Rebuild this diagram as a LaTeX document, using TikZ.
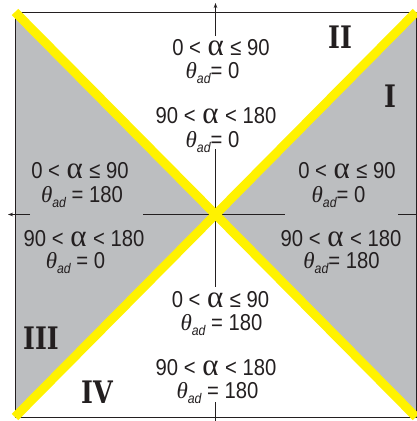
\documentclass[tikz,border=0pt]{standalone}
\usepackage{fontspec}
\usetikzlibrary{arrows.meta}
\newfontfamily\lab[FakeStretch=0.88]{Liberation Sans}
\newfontfamily\thf{Liberation Serif}
\newfontfamily\romf[FakeStretch=0.82]{DejaVu Serif}
\definecolor{gr}{HTML}{BCBEC0}
\definecolor{yl}{HTML}{FFF200}
\definecolor{ink}{HTML}{231F20}
\newcommand\al{\hspace{1pt}{\thf\fontsize{31}{31}\selectfont α}\hspace{1pt}}
\newcommand\thad{{\thf\itshape θ}\raisebox{-5pt}{\fontsize{14}{14}\selectfont\itshape ad}}
\begin{document}
\begin{tikzpicture}[x=1pt,y=-1pt,
  lbl/.style={anchor=base,inner sep=0pt,text=ink,font=\lab\fontsize{23}{23}\selectfont},
  rom/.style={inner sep=0pt,text=ink,font=\romf\fontsize{31}{31}\selectfont\bfseries},
  axisline/.style={draw=ink,line width=1pt},
  tip/.style={-{Stealth[length=5pt,width=3.5pt]}},
  yline/.style={draw=yl,line width=9pt}]
\useasboundingbox (0,0) rectangle (417,421);
\coordinate (TL) at (15,12);
\coordinate (TR) at (416,12);
\coordinate (BL) at (15,417);
\coordinate (BR) at (416,417);
\coordinate (C) at (215.5,214.5);
% fills
\fill[gr] (TL) -- (C) -- (BL) -- cycle;
\fill[gr] (TR) -- (C) -- (BR) -- cycle;
\draw[ink,line width=1pt] (TL) rectangle (BR);
% axes
\coordinate (hL1) at (30,214.5);   \coordinate (hLtip) at (8,214.5);
\coordinate (hM1) at (143,214.5);  \coordinate (hM2) at (285,214.5);
\coordinate (hR1) at (398,214.5);  \coordinate (hR2) at (417,214.5);
\coordinate (vT1) at (215.5,36);   \coordinate (vTtip) at (215.5,3);
\coordinate (vM1) at (215.5,149);  \coordinate (vM2) at (215.5,287);
\coordinate (vB1) at (215.5,402);  \coordinate (vB2) at (215.5,421);
\draw[axisline,tip] (hL1) -- (hLtip);
\draw[axisline] (hM1) -- (hM2);
\draw[axisline] (hR1) -- (hR2);
\draw[axisline,tip] (vT1) -- (vTtip);
\draw[axisline] (vM1) -- (vM2);
\draw[axisline] (vB1) -- (vB2);
% yellow diagonals
\draw[yline] (TL) -- (BR);
\draw[yline] (TR) -- (BL);
% labels
\node[lbl] (t1) at (221,55) {0 < \al{} ≤ 90};
\node[lbl] (t2) at (212.5,78) {\thad= 0};
\node[lbl] (t3) at (216,123) {90 < \al{} < 180};
\node[lbl] (t4) at (212.5,147) {\thad= 0};
\node[lbl] (l1) at (80,178) {0 < \al{} ≤ 90};
\node[lbl] (l2) at (82,202) {\thad{} = 180};
\node[lbl] (l3) at (84,246) {90 < \al{} < 180};
\node[lbl] (l4) at (75.5,268) {\thad{} = 0};
\node[lbl] (r1) at (347,178) {0 < \al{} ≤ 90};
\node[lbl] (r2) at (338.5,202) {\thad= 0};
\node[lbl] (r3) at (341,246) {90 < \al{} < 180};
\node[lbl] (r4) at (341.5,268) {\thad= 180};
\node[lbl] (b1) at (220.5,307) {0 < \al{} ≤ 90};
\node[lbl] (b2) at (221.5,330) {\thad{} = 180};
\node[lbl] (b3) at (216,375) {90 < \al{} < 180};
\node[lbl] (b4) at (217.5,398) {\thad{} = 180};
% quadrant numerals
\node[rom] (q2) at (340,37) {II};
\node[rom] (q1) at (390,96) {I};
\node[rom] (q3) at (41,338) {III};
\node[rom] (q4) at (97,392) {IV};
\end{tikzpicture}
\end{document}
